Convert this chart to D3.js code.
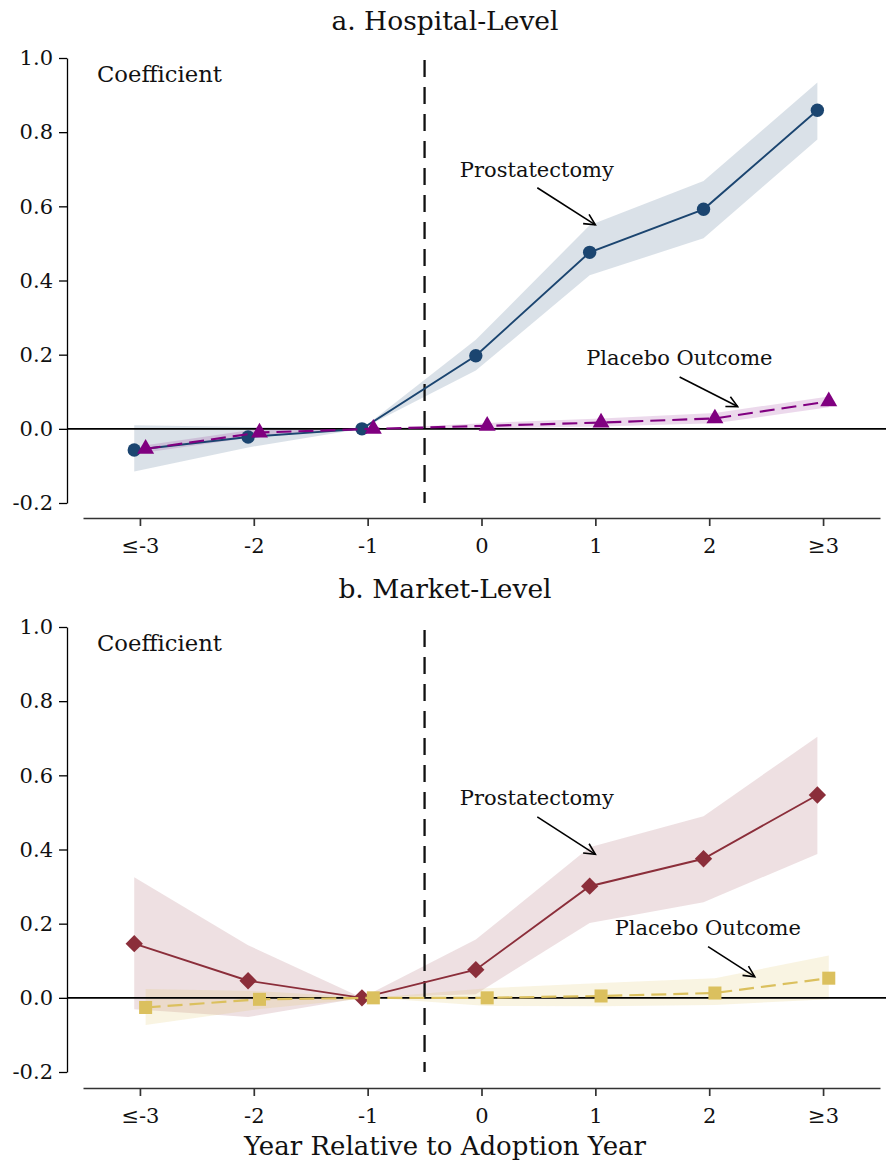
<!DOCTYPE html>
<html>
<head>
<meta charset="utf-8">
<script src="https://cdn.jsdelivr.net/npm/d3@7"></script>
<style>
  html, body { margin: 0; padding: 0; background: #fff; }
  svg { display: block; }
  text { font-family: "DejaVu Serif", serif; fill: #111; }
</style>
</head>
<body>
<div id="chart"></div>
<script>
// ---------------- data ----------------
const categories = ["≤-3", "-2", "-1", "0", "1", "2", "≥3"];
const yTickValues = [-0.2, 0, 0.2, 0.4, 0.6, 0.8, 1.0];
const yTickLabels = ["-0.2", "0.0", "0.2", "0.4", "0.6", "0.8", "1.0"];

// a. Hospital-Level
const hospProst   = [-0.057, -0.022, 0, 0.197, 0.476, 0.592, 0.859];
const hospProstLo = [-0.115, -0.050, 0, 0.157, 0.414, 0.514, 0.780];
const hospProstHi = [ 0.010,  0.005, 0, 0.240, 0.549, 0.668, 0.934];
const hospPlac    = [-0.054, -0.010, 0, 0.008, 0.017, 0.028, 0.074];
const hospPlacLo  = [-0.064, -0.020, 0, 0.001, 0.006, 0.015, 0.058];
const hospPlacHi  = [-0.044,  0.000, 0, 0.016, 0.028, 0.043, 0.087];

// b. Market-Level
const mktProst    = [0.146, 0.046, 0, 0.076, 0.301, 0.375, 0.547];
const mktProstLo  = [-0.031, -0.052, 0, 0.010, 0.202, 0.258, 0.388];
const mktProstHi  = [0.325, 0.142, 0, 0.157, 0.406, 0.490, 0.704];
const mktPlac     = [-0.026, -0.004, 0, 0.000, 0.005, 0.013, 0.053];
const mktPlacLo   = [-0.073, -0.030, 0, -0.022, -0.023, -0.019, -0.004];
const mktPlacHi   = [0.024, 0.018, 0, 0.026, 0.040, 0.053, 0.114];

// annotation anchors in data units (category index, coefficient)
const hospAnno = [
  { label: "Prostatectomy",   tx: 2.81, ty: 0.680, ax0: 3.49, ay0: 0.650, ax1: 4.00, ay1: 0.550 },
  { label: "Placebo Outcome", tx: 3.92, ty: 0.172, ax0: 4.74, ay0: 0.140, ax1: 5.25, ay1: 0.060 }
];
const mktAnno = [
  { label: "Prostatectomy",   tx: 2.81, ty: 0.520, ax0: 3.49, ay0: 0.488, ax1: 4.00, ay1: 0.387 },
  { label: "Placebo Outcome", tx: 4.17, ty: 0.169, ax0: 4.99, ay0: 0.138, ax1: 5.40, ay1: 0.057 }
];

// ---------------- drawing ----------------
const W = 886, H = 1165;
const svg = d3.select("#chart").append("svg").attr("width", W).attr("height", H);

const defs = svg.append("defs");
defs.append("marker")
  .attr("id", "arrow").attr("viewBox", "-12 -7 14 14")
  .attr("refX", 0).attr("refY", 0)
  .attr("markerWidth", 14).attr("markerHeight", 14)
  .attr("markerUnits", "userSpaceOnUse")
  .attr("orient", "auto")
  .append("path").attr("d", "M-11,-5.5L0,0L-11,5.5")
  .attr("fill", "none").attr("stroke", "#000").attr("stroke-width", 1.6);

const x = d3.scaleLinear().domain([-0.5, 6.5]).range([83, 880]);
const offset = 0.05;

const panels = [
  {
    title: "a. Hospital-Level", titleY: 30, yRange: [503, 58], xAxisY: 518, vTop: 60,
    prost: hospProst, prostLo: hospProstLo, prostHi: hospProstHi,
    plac: hospPlac, placLo: hospPlacLo, placHi: hospPlacHi,
    prostColor: "#1b4570", placColor: "#800080",
    prostBand: "rgba(27,69,112,0.16)", placBand: "rgba(128,0,128,0.15)",
    prostShape: "circle", placShape: "triangle", anno: hospAnno
  },
  {
    title: "b. Market-Level", titleY: 598, yRange: [1072, 627], xAxisY: 1088, vTop: 630,
    prost: mktProst, prostLo: mktProstLo, prostHi: mktProstHi,
    plac: mktPlac, placLo: mktPlacLo, placHi: mktPlacHi,
    prostColor: "#8b2e3a", placColor: "#dbc05e",
    prostBand: "rgba(139,46,58,0.15)", placBand: "rgba(219,192,94,0.18)",
    prostShape: "diamond", placShape: "square", anno: mktAnno
  }
];

const symbolFor = {
  circle:   d3.symbol().type(d3.symbolCircle).size(140),
  triangle: d3.symbol().type(d3.symbolTriangle).size(125),
  diamond:  d3.symbol().type(d3.symbolSquare).size(150),
  square:   d3.symbol().type(d3.symbolSquare).size(170)
};

panels.forEach(p => {
  const y = d3.scaleLinear().domain([-0.2, 1.0]).range(p.yRange);
  const g = svg.append("g");

  // title
  g.append("text").attr("x", 445).attr("y", p.titleY)
    .attr("text-anchor", "middle").style("font-size", "26.5px").text(p.title);

  // bands
  const idx = d3.range(categories.length);
  const band = (lo, hi, dx) => d3.area()
    .x(i => x(i + dx)).y0(i => y(lo[i])).y1(i => y(hi[i]))(idx);
  g.append("path").attr("d", band(p.prostLo, p.prostHi, -offset)).attr("fill", p.prostBand);
  g.append("path").attr("d", band(p.placLo, p.placHi, offset)).attr("fill", p.placBand);

  // zero line
  g.append("line").attr("x1", 67).attr("x2", W).attr("y1", y(0)).attr("y2", y(0))
    .attr("stroke", "#000").attr("stroke-width", 1.7);

  // vertical dashed line at adoption
  g.append("line").attr("x1", x(2.5)).attr("x2", x(2.5))
    .attr("y1", p.vTop).attr("y2", y(-0.2))
    .attr("stroke", "#111").attr("stroke-width", 2.3).attr("stroke-dasharray", "17,10");

  // y axis
  const yAxis = d3.axisLeft(y).tickValues(yTickValues)
    .tickFormat((d, i) => yTickLabels[i]).tickSize(8).tickSizeOuter(0).tickPadding(6);
  const ya = g.append("g").attr("transform", "translate(67,0)").call(yAxis);
  ya.attr("font-size", null).attr("font-family", null);
  ya.selectAll("path, line").attr("stroke", "#000").attr("stroke-width", 1.3);
  ya.selectAll("text").style("font-size", "21px").attr("fill", "#111")
    .style("font-family", '"DejaVu Serif", serif');

  // x axis
  const xAxis = d3.axisBottom(x).tickValues(idx).tickFormat(i => categories[i])
    .tickSize(8).tickSizeOuter(0).tickPadding(12);
  const xa = g.append("g").attr("transform", `translate(0,${p.xAxisY})`).call(xAxis);
  xa.attr("font-size", null).attr("font-family", null);
  xa.selectAll("path, line").attr("stroke", "#333").attr("stroke-width", 1.7);
  xa.selectAll("text").style("font-size", "21px").attr("fill", "#111")
    .style("font-family", '"DejaVu Serif", serif');

  // y label
  g.append("text").attr("x", 97).attr("y", y(0.935)).style("font-size", "22.7px").text("Coefficient");

  // lines
  const line = (vals, dx) => d3.line().x(i => x(i + dx)).y(i => y(vals[i]))(idx);
  g.append("path").attr("d", line(p.prost, -offset)).attr("fill", "none")
    .attr("stroke", p.prostColor).attr("stroke-width", 1.9);
  g.selectAll(null).data(idx).join("path")
    .attr("d", symbolFor[p.prostShape])
    .attr("transform", i => `translate(${x(i - offset)},${y(p.prost[i])})` + (p.prostShape === "diamond" ? " rotate(45)" : ""))
    .attr("fill", p.prostColor);

  g.append("path").attr("d", line(p.plac, offset)).attr("fill", "none")
    .attr("stroke", p.placColor).attr("stroke-width", 2.2).attr("stroke-dasharray", "15,7");
  g.selectAll(null).data(idx).join("path")
    .attr("d", symbolFor[p.placShape])
    .attr("transform", i => `translate(${x(i + offset)},${y(p.plac[i])})`)
    .attr("fill", p.placColor);

  // annotations
  p.anno.forEach(a => {
    g.append("text").attr("x", x(a.tx)).attr("y", y(a.ty)).style("font-size", "21px").text(a.label);
    g.append("line").attr("x1", x(a.ax0)).attr("y1", y(a.ay0))
      .attr("x2", x(a.ax1)).attr("y2", y(a.ay1))
      .attr("stroke", "#000").attr("stroke-width", 1.6).attr("marker-end", "url(#arrow)");
  });
});

// x axis title
svg.append("text").attr("x", 445).attr("y", 1155).attr("text-anchor", "middle")
  .style("font-size", "26px").text("Year Relative to Adoption Year");
</script>
</body>
</html>
